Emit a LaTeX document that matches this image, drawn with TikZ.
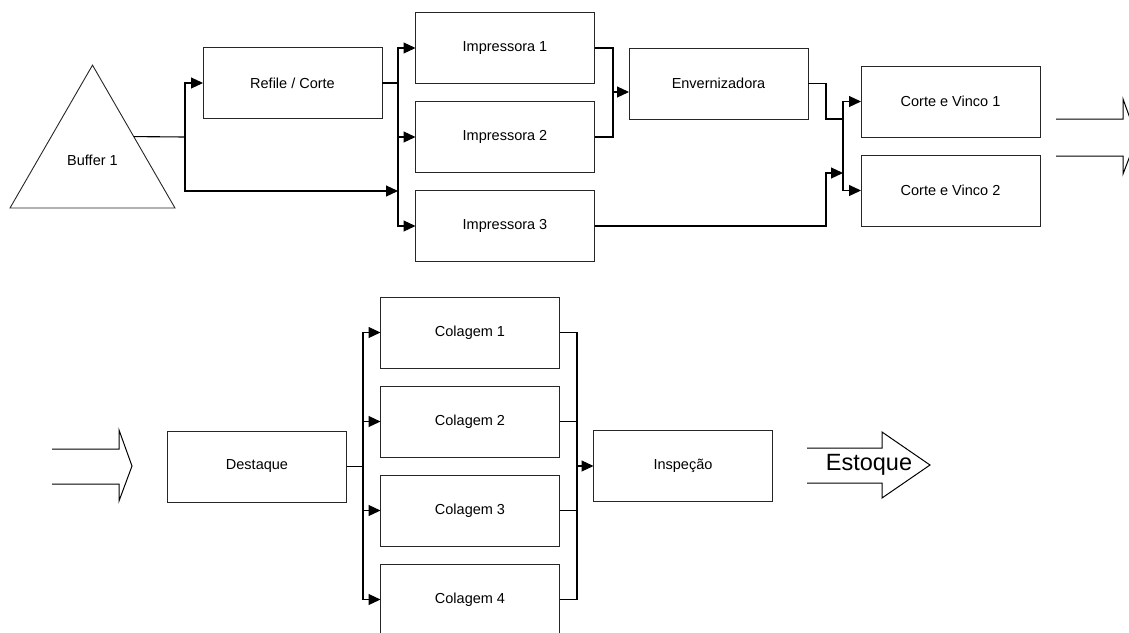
\documentclass[tikz,border=0pt]{standalone}
\usepackage{fontspec}
\setmainfont{Liberation Sans}
\usetikzlibrary{arrows.meta,shapes.geometric,calc}

\begin{document}
\begin{tikzpicture}[x=1pt,y=-1pt,
  box/.style={draw=black!85, line width=0.9pt, minimum width=179pt,
    minimum height=71pt, inner sep=0pt, outer sep=0pt,
    font=\fontsize{14.5}{17}\selectfont},
  buffer/.style={draw=black!85, line width=0.9pt, regular polygon,
    regular polygon sides=3, minimum size=190.5pt, inner sep=0pt,
    outer sep=0pt, font=\fontsize{14.5}{17}\selectfont},
  wire/.style={line width=1.1pt},
  link/.style={wire, -{Triangle[length=12pt,width=11pt]}},
  blockarrow/.style={draw=black, line width=1pt, line join=miter}]

\useasboundingbox (0,0) rectangle (1129,632);
\clip (0,0) rectangle (1129,632);

% ---- first line: cutting, printing, varnishing, die cutting ----
\node[buffer] (buf) at (92.5,160.4) {Buffer 1};
\node[box] (ref)  at (292.5,83)    {Refile / Corte};
\node[box] (imp1) at (505,48)      {Impressora 1};
\node[box] (imp2) at (505,137)     {Impressora 2};
\node[box] (imp3) at (505,226)     {Impressora 3};
\node[box] (env)  at (718.5,83.5)  {Envernizadora};
\node[box] (cv1)  at (950.5,101.5) {Corte e Vinco 1};
\node[box] (cv2)  at (950.5,190.5) {Corte e Vinco 2};

% buffer splits to the cutter and straight to the printers
\coordinate (bj) at (185,137);
\coordinate (pt) at (398,191);
\draw[wire] ($(buf.corner 1)!0.5!(buf.corner 3)$) -- (bj);
\draw[link] (bj) |- (ref.west);
\draw[link] (bj) |- (pt);

% printer feed rail
\draw[wire] (ref.east) -- (ref.east -| pt);
\draw[link] (ref.east -| pt) |- (imp1.west);
\draw[link] (ref.east -| pt) |- (imp2.west);
\draw[link] (ref.east -| pt) |- (imp3.west);

% printers 1 and 2 into the varnisher
\coordinate (vm) at (613,92);
\draw[wire] (imp1.east) -| (vm);
\draw[wire] (imp2.east) -| (vm);
\draw[link] (vm) -- (env.west |- vm);

% die cutting rail
\coordinate (cr) at (843,146);
\coordinate (e1) at (826,119);
\coordinate (e2) at (826,173);
\draw[wire] (env.east) -| (e1) -- (e1 -| cr);
\draw[link] (imp3.east) -| (e2) -- (e2 -| cr);
\draw[link] (cr) |- (cv1.west);
\draw[link] (cr) |- (cv2.west);

% continuation arrow to the second line
\draw[blockarrow] (1056,119) -- (1123,119) -- (1123,99) -- (1137,137.5)
  -- (1123,174) -- (1123,156) -- (1056,156);

% ---- second line: stripping, gluing, inspection ----
\draw[blockarrow] (52,449) -- (119,449) -- (119,430) -- (132,466)
  -- (119,501) -- (119,484) -- (52,484);

\node[box] (des)  at (257,466.5) {Destaque};
\node[box] (col1) at (470,332.5) {Colagem 1};
\node[box] (col2) at (470,421.5) {Colagem 2};
\node[box] (col3) at (470,510.5) {Colagem 3};
\node[box] (col4) at (470,599.5) {Colagem 4};
\node[box] (insp) at (683,465.5) {Inspeção};

\coordinate (gr) at (363,466.5);
\draw[wire] (des.east) -- (gr);
\draw[link] (gr) |- (col1.west);
\draw[link] (gr) |- (col2.west);
\draw[link] (gr) |- (col3.west);
\draw[link] (gr) |- (col4.west);

\coordinate (ir) at (577,466);
\draw[wire] (col1.east) -| (ir);
\draw[wire] (col2.east) -| (ir);
\draw[wire] (col3.east) -| (ir);
\draw[wire] (col4.east) -| (ir);
\draw[link] (ir) -- (insp.west |- ir);

% finished goods
\draw[blockarrow] (807,448) -- (882,448) -- (882,432) -- (930,465)
  -- (882,498) -- (882,483) -- (807,483);
\node[font=\fontsize{23.5}{26}\selectfont, inner sep=0pt] (est) at (869,465) {Estoque};

\end{tikzpicture}
\end{document}
